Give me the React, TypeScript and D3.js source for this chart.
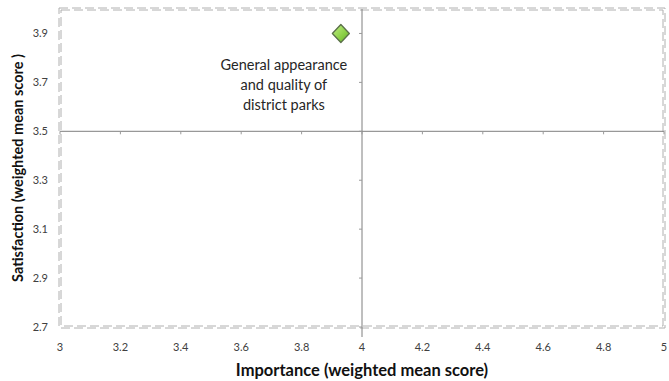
import React from "react";
import * as d3 from "d3";

// Quadrant chart: importance vs satisfaction
const pointNames = ["General appearance and quality of district parks"];
const pointLabelLines = [["General appearance", "and quality of", "district parks"]];
const importanceValues = [3.93];
const satisfactionValues = [3.9];

const xTicks = [3, 3.2, 3.4, 3.6, 3.8, 4, 4.2, 4.4, 4.6, 4.8, 5];
const yTicks = [2.7, 2.9, 3.1, 3.3, 3.5, 3.7, 3.9];

const xTitle = "Importance (weighted mean score)";
const yTitle = "Satisfaction (weighted mean score )";

const W = 669;
const H = 381;
const FONT = "Lato, 'Open Sans', sans-serif";

// diamond marker outline
function diamondPath(hw: number, hh: number) {
  const p = d3.path();
  p.moveTo(0, -hh);
  p.lineTo(hw, 0);
  p.lineTo(0, hh);
  p.lineTo(-hw, 0);
  p.closePath();
  return p.toString();
}

export default function App() {
  const x = d3.scaleLinear().domain([3, 5]).range([60, 664]);
  const y = d3.scaleLinear().domain([2.7, 4.0]).range([327, 9]);
  const xCross = x(4);
  const yCross = y(3.5);
  const [x0, x1] = x.range();
  const [y0, y1] = y.range();

  const diamond = diamondPath(8.5, 9);

  return (
    <svg
      width={W}
      height={H}
      style={{ position: "absolute", left: 0, top: 0, display: "block" }}
      fontFamily={FONT}
    >
      <defs>
        <linearGradient id="ptFill" x1="0" y1="0" x2="1" y2="1">
          <stop offset="0%" stopColor="#c4f08a" />
          <stop offset="55%" stopColor="#8fd24a" />
          <stop offset="100%" stopColor="#62b126" />
        </linearGradient>
      </defs>
      <rect width={W} height={H} fill="#fff" />

      {/* double dashed plot frame */}
      {[-1, 1].map((o) => (
        <rect
          key={o}
          x={x0 + o}
          y={y1 + o}
          width={x1 - x0 - 2 * o}
          height={y0 - y1 - 2 * o}
          fill="none"
          stroke="#b0b0b0"
          strokeWidth={1}
          strokeDasharray="9,4"
        />
      ))}

      {/* crossing axes */}
      <line x1={x0} x2={x1} y1={yCross} y2={yCross} stroke="#7f7f7f" strokeWidth={1} />
      <line x1={xCross} x2={xCross} y1={y1} y2={y0 + 10} stroke="#7f7f7f" strokeWidth={1} />
      {xTicks.map((t) => (
        <line key={"xt" + t} x1={x(t)} x2={x(t)} y1={yCross} y2={yCross + 3} stroke="#9a9a9a" />
      ))}
      {yTicks.map((t) => (
        <line key={"yt" + t} x1={xCross - 3} x2={xCross} y1={y(t)} y2={y(t)} stroke="#9a9a9a" />
      ))}

      {/* tick labels */}
      {xTicks.map((t) => (
        <text key={"xl" + t} x={x(t)} y={351} textAnchor="middle" fontSize={11} fill="#404040">
          {d3.format("")(t)}
        </text>
      ))}
      {yTicks.map((t) => (
        <text key={"yl" + t} x={48} y={y(t) + 4} textAnchor="end" fontSize={11} fill="#404040">
          {t.toFixed(1)}
        </text>
      ))}

      {/* point and label */}
      {importanceValues.map((v, i) => (
        <g key={pointNames[i]}>
          <path
            d={diamond}
            transform={`translate(${x(v)},${y(satisfactionValues[i])})`}
            fill="url(#ptFill)"
            stroke="#5a7048"
            strokeWidth={1.3}
            strokeLinejoin="round"
          />
          <text textAnchor="middle" fontSize={14.5} fill="#262626">
            {pointLabelLines[i].map((ln, j) => (
              <tspan key={j} x={x(v) - 57} y={y(satisfactionValues[i]) + 37 + j * 20}>
                {ln}
              </tspan>
            ))}
          </text>
        </g>
      ))}

      {/* axis titles */}
      <text x={xCross} y={376} textAnchor="middle" fontSize={16.5} fontWeight="bold" fill="#111">
        {xTitle}
      </text>
      <text
        transform={`translate(23,${(y0 + y1) / 2}) rotate(-90)`}
        textAnchor="middle"
        fontSize={14.5}
        fontWeight="bold"
        fill="#111"
      >
        {yTitle}
      </text>
    </svg>
  );
}
